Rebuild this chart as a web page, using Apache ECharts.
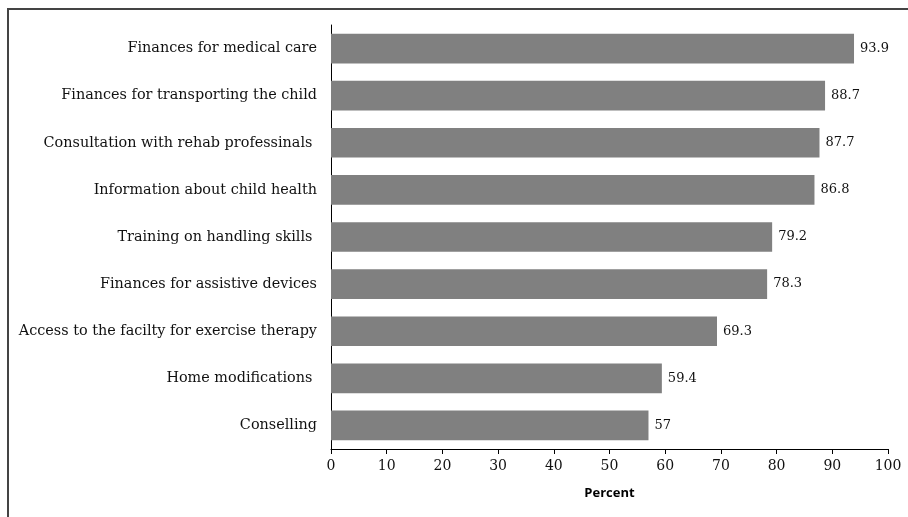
<!DOCTYPE html>
<html>
<head>
<meta charset="utf-8">
<script src="https://cdn.jsdelivr.net/npm/echarts@6/dist/echarts.min.js"></script>
<style>
  html, body { margin: 0; padding: 0; background: #fff; }
  #chart { width: 908px; height: 517px; }
</style>
</head>
<body>
<div id="chart"></div>
<script>
// categories listed top to bottom
const categories = [
  'Finances for medical care',
  'Finances for transporting the child',
  'Consultation with rehab professinals ',
  'Information about child health',
  'Training on handling skills ',
  'Finances for assistive devices',
  'Access to the facilty for exercise therapy',
  'Home modifications ',
  'Conselling'
];
const percentValues = [93.9, 88.7, 87.7, 86.8, 79.2, 78.3, 69.3, 59.4, 57];
const xTicks = [0, 10, 20, 30, 40, 50, 60, 70, 80, 90, 100];

const chart = echarts.init(document.getElementById('chart'));

chart.setOption({
  animation: false,
  graphic: [
    {
      type: 'rect',
      shape: { x: 8, y: 9, width: 1000, height: 1000 },
      style: { fill: 'none', stroke: '#444', lineWidth: 2 }
    }
  ],
  grid: { left: 331, right: 20, top: 25, bottom: 68 },
  xAxis: {
    type: 'value',
    min: xTicks[0],
    max: xTicks[xTicks.length - 1],
    interval: 10,
    name: 'Percent',
    nameLocation: 'middle',
    nameGap: 38,
    nameTextStyle: { fontFamily: 'Open Sans', fontWeight: 'bold', fontSize: 13, color: '#000' },
    axisLine: { show: true, lineStyle: { color: '#000', width: 1 } },
    axisTick: { show: true, length: 5, lineStyle: { color: '#000' } },
    axisLabel: { fontFamily: 'DejaVu Serif', fontSize: 14, color: '#111', margin: 10 },
    splitLine: { show: false }
  },
  yAxis: {
    type: 'category',
    data: categories,
    inverse: true,
    axisLine: { show: true, lineStyle: { color: '#000', width: 1 } },
    axisTick: { show: false },
    axisLabel: { fontFamily: 'DejaVu Serif', fontSize: 14.4, color: '#111', margin: 14 }
  },
  series: [
    {
      type: 'bar',
      data: percentValues,
      barCategoryGap: '37%',
      itemStyle: { color: '#808080' },
      label: {
        show: true,
        position: 'right',
        distance: 6,
        fontFamily: 'DejaVu Serif',
        fontSize: 13,
        color: '#111'
      }
    }
  ]
});
</script>
</body>
</html>
